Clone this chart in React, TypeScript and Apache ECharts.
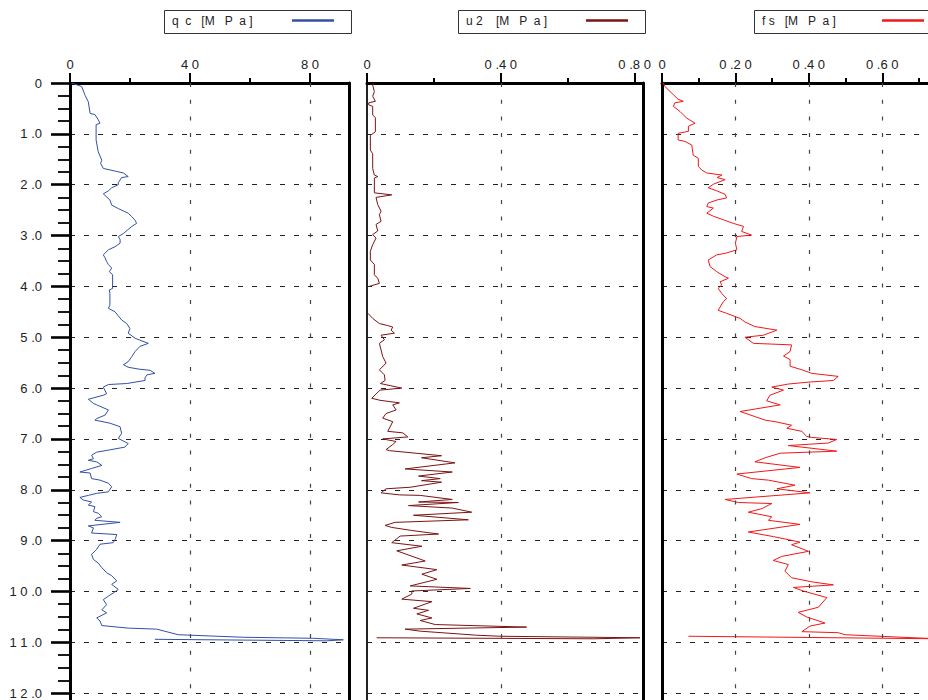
import React, { useEffect, useRef } from 'react';
import * as echarts from 'echarts';

// ---- data: [depth (m), value (MPa)] ----
const qcProfile: number[][] = [
  [0.00, 0.6], [0.07, 3.9], [0.24, 5.0], [0.37, 6.1], [0.60, 6.7], [0.62, 8.3], [0.72, 9.4], [0.79, 10.0], [0.82, 8.7],
  [1.12, 8.7], [1.35, 9.4], [1.52, 10.6], [1.58, 10.2], [1.68, 11.1], [1.74, 15.6], [1.77, 17.8], [1.84, 19.4], [1.86, 17.2],
  [1.96, 16.1], [2.00, 16.1], [2.06, 13.9], [2.12, 12.8], [2.18, 11.1], [2.30, 13.3], [2.40, 13.9], [2.47, 16.1], [2.56, 19.4],
  [2.63, 20.6], [2.70, 21.7], [2.76, 22.2], [2.82, 20.6], [2.96, 17.8], [3.02, 16.1], [3.08, 16.7], [3.15, 16.7], [3.22, 15.0],
  [3.28, 12.8], [3.38, 11.1], [3.44, 11.7], [3.51, 12.2], [3.57, 12.8], [3.64, 13.9], [3.71, 13.1], [3.77, 14.2], [4.04, 14.2],
  [4.07, 13.1], [4.14, 13.3], [4.37, 13.3], [4.43, 12.8], [4.50, 15.0], [4.60, 16.4], [4.66, 17.2], [4.73, 18.9], [4.83, 20.0],
  [4.92, 19.4], [5.02, 21.7], [5.12, 26.1], [5.18, 23.3], [5.28, 21.7], [5.38, 20.6], [5.48, 19.4], [5.54, 17.8], [5.59, 19.4],
  [5.63, 23.3], [5.65, 26.7], [5.71, 28.3], [5.74, 25.6], [5.80, 25.0], [5.85, 25.0], [5.91, 18.9], [5.93, 12.8], [5.98, 11.1],
  [6.11, 12.2], [6.14, 11.1], [6.22, 6.1], [6.30, 7.8], [6.33, 8.9], [6.43, 12.8], [6.53, 11.7], [6.60, 8.9], [6.63, 8.3],
  [6.69, 13.3], [6.76, 16.7], [6.89, 17.2], [6.99, 16.1], [7.09, 19.4], [7.16, 18.3], [7.22, 12.8], [7.26, 8.9], [7.32, 7.2],
  [7.39, 7.8], [7.42, 6.1], [7.45, 8.9], [7.52, 10.6], [7.58, 7.2], [7.65, 3.3], [7.67, 6.7], [7.78, 7.2], [7.81, 10.0],
  [7.87, 12.8], [7.94, 13.9], [8.04, 12.8], [8.07, 8.9], [8.11, 6.1], [8.15, 3.3], [8.20, 4.4], [8.24, 7.2], [8.30, 6.1],
  [8.33, 8.3], [8.43, 7.8], [8.46, 9.4], [8.53, 10.6], [8.56, 8.9], [8.60, 8.3], [8.64, 16.7], [8.71, 6.1], [8.75, 7.8],
  [8.85, 7.2], [8.88, 15.6], [8.98, 15.0], [9.04, 14.4], [9.07, 10.0], [9.17, 8.9], [9.27, 7.2], [9.37, 7.8], [9.44, 9.4],
  [9.53, 10.6], [9.63, 12.2], [9.69, 13.9], [9.79, 15.6], [9.86, 13.9], [9.96, 16.1], [10.03, 14.4], [10.09, 12.8],
  [10.16, 11.1], [10.26, 12.2], [10.36, 10.6], [10.42, 12.2], [10.52, 8.9], [10.58, 10.0], [10.67, 10.6], [10.72, 19.4],
  [10.74, 28.9], [10.85, 36.1], [10.90, 57.8], [10.92, 81.1], [10.95, 91.1], [10.97, 85.6], [10.94, 28.3],
];

// null marks a gap in the record
const u2Profile: (number[] | null)[] = [
  [0.00, 0.019], [0.04, 0.017], [0.17, 0.022], [0.26, 0.017], [0.36, 0.025], [0.39, 0.005], [0.43, 0.005], [0.46, 0.017],
  [0.63, 0.017], [0.68, 0.025], [0.96, 0.025], [1.03, 0.010], [1.32, 0.010], [1.39, 0.017], [1.68, 0.017], [1.81, 0.022],
  [1.84, 0.032], [1.87, 0.022], [2.16, 0.022], [2.20, 0.074], [2.25, 0.027], [2.39, 0.032], [2.52, 0.042], [2.59, 0.037],
  [2.72, 0.042], [2.78, 0.027], [2.91, 0.032], [2.98, 0.017], [3.05, 0.027], [3.18, 0.017], [3.31, 0.010], [3.48, 0.010],
  [3.57, 0.022], [3.77, 0.022], [3.84, 0.032], [3.94, 0.037], [4.00, 0.007],
  null,
  [4.53, 0.003], [4.63, 0.017], [4.73, 0.037], [4.77, 0.062], [4.80, 0.077], [4.86, 0.072], [4.92, 0.082], [4.96, 0.042],
  [5.05, 0.052], [5.12, 0.037], [5.25, 0.042], [5.38, 0.047], [5.51, 0.057], [5.64, 0.037], [5.74, 0.052], [5.85, 0.054],
  [5.91, 0.040], [6.00, 0.104], [6.04, 0.039], [6.20, 0.014], [6.24, 0.039], [6.29, 0.097], [6.33, 0.077], [6.43, 0.087],
  [6.50, 0.057], [6.59, 0.047], [6.66, 0.077], [6.85, 0.062], [6.88, 0.107], [6.96, 0.122], [7.00, 0.047], [7.05, 0.087],
  [7.11, 0.077], [7.21, 0.057], [7.23, 0.067], [7.33, 0.223], [7.37, 0.163], [7.47, 0.263], [7.59, 0.114], [7.65, 0.255],
  [7.73, 0.154], [7.78, 0.219], [7.82, 0.163], [7.85, 0.223], [7.95, 0.129], [7.98, 0.057], [8.06, 0.042], [8.10, 0.097],
  [8.11, 0.159], [8.19, 0.255], [8.24, 0.154], [8.25, 0.273], [8.31, 0.124], [8.36, 0.255], [8.44, 0.313], [8.50, 0.139],
  [8.59, 0.303], [8.64, 0.084], [8.70, 0.054], [8.74, 0.074], [8.80, 0.134], [8.87, 0.214], [8.91, 0.099], [9.04, 0.074],
  [9.11, 0.164], [9.20, 0.089], [9.40, 0.174], [9.48, 0.104], [9.57, 0.209], [9.66, 0.164], [9.76, 0.209], [9.89, 0.129],
  [9.94, 0.309], [9.99, 0.134], [10.05, 0.134], [10.15, 0.104], [10.20, 0.194], [10.33, 0.139], [10.37, 0.184],
  [10.44, 0.149], [10.52, 0.194], [10.57, 0.159], [10.65, 0.204], [10.70, 0.477], [10.74, 0.114], [10.78, 0.159],
  [10.86, 0.328], [10.88, 0.398], [10.91, 0.816], [10.93, 0.677], [10.91, 0.029],
];

const fsProfile: number[][] = [
  [0.00, 0.003], [0.07, 0.008], [0.23, 0.031], [0.32, 0.044], [0.36, 0.058], [0.39, 0.035], [0.46, 0.031], [0.56, 0.049],
  [0.69, 0.067], [0.75, 0.081], [0.79, 0.090], [0.85, 0.072], [0.95, 0.072], [0.99, 0.044], [1.12, 0.044], [1.15, 0.063],
  [1.22, 0.081], [1.42, 0.085], [1.48, 0.099], [1.64, 0.099], [1.71, 0.108], [1.77, 0.122], [1.81, 0.163], [1.86, 0.150],
  [1.90, 0.172], [1.99, 0.140], [2.06, 0.126], [2.12, 0.149], [2.19, 0.172], [2.26, 0.176], [2.30, 0.150], [2.36, 0.126],
  [2.43, 0.122], [2.46, 0.140], [2.56, 0.122], [2.62, 0.140], [2.69, 0.167], [2.76, 0.194], [2.82, 0.222], [2.92, 0.217],
  [2.99, 0.244], [3.02, 0.204], [3.15, 0.200], [3.28, 0.204], [3.35, 0.172], [3.38, 0.149], [3.48, 0.126], [3.61, 0.131],
  [3.71, 0.149], [3.81, 0.172], [3.84, 0.181], [3.91, 0.158], [3.97, 0.163], [4.04, 0.153], [4.14, 0.163], [4.24, 0.176],
  [4.30, 0.167], [4.47, 0.153], [4.53, 0.176], [4.63, 0.213], [4.70, 0.226], [4.79, 0.253], [4.86, 0.313], [4.96, 0.276],
  [5.00, 0.226], [5.12, 0.249], [5.15, 0.353], [5.28, 0.349], [5.37, 0.331], [5.44, 0.349], [5.57, 0.349], [5.64, 0.381],
  [5.71, 0.408], [5.77, 0.480], [5.85, 0.467], [5.88, 0.403], [5.92, 0.344], [5.98, 0.299], [6.04, 0.331], [6.14, 0.294],
  [6.25, 0.285], [6.33, 0.322], [6.46, 0.213], [6.56, 0.253], [6.63, 0.281], [6.66, 0.308], [6.73, 0.353], [6.79, 0.340],
  [6.85, 0.381], [6.95, 0.394], [6.97, 0.408], [7.01, 0.476], [7.08, 0.453], [7.13, 0.344], [7.24, 0.476], [7.28, 0.322],
  [7.37, 0.281], [7.45, 0.253], [7.56, 0.376], [7.69, 0.204], [7.78, 0.244], [7.81, 0.290], [7.91, 0.362], [7.98, 0.313],
  [8.06, 0.403], [8.19, 0.172], [8.25, 0.208], [8.27, 0.299], [8.37, 0.272], [8.44, 0.235], [8.53, 0.299], [8.60, 0.290],
  [8.68, 0.376], [8.83, 0.235], [8.92, 0.303], [8.98, 0.344], [9.03, 0.376], [9.08, 0.353], [9.21, 0.399], [9.31, 0.326],
  [9.39, 0.303], [9.47, 0.344], [9.60, 0.335], [9.73, 0.353], [9.81, 0.408], [9.87, 0.467], [9.92, 0.358], [9.99, 0.385],
  [10.12, 0.449], [10.31, 0.426], [10.41, 0.371], [10.50, 0.394], [10.62, 0.444], [10.68, 0.403], [10.79, 0.381],
  [10.81, 0.480], [10.85, 0.499], [10.93, 0.750], [10.88, 0.072],
];

// ---- axis ticks / labels ----
const qcMinorTicks = [0, 20, 40, 60, 80];
const qcMajorTicks = [0, 40, 80];
const qcGridX = [40, 80];
const u2MinorTicks = [0, 0.2, 0.4, 0.6, 0.8];
const u2MajorTicks = [0, 0.4, 0.8];
const u2GridX = [0.4];
const fsMinorTicks = [0, 0.1, 0.2, 0.3, 0.4, 0.5, 0.6, 0.7];
const fsMajorTicks = [0, 0.2, 0.4, 0.6];
const fsGridX = [0.2, 0.4, 0.6];
const legendLabels = ['q  c   [M   P  a ]', 'u 2    [M   P  a ]', 'f s   [M   P  a ]'];

const FONT = '"Liberation Sans", Arial, sans-serif';

const spaced = (s: string) =>
  s.split('').map((c, i) => (i === 0 || s[i - 1] === '.' ? c : ' ' + c)).join('');
const fmt = (v: number, dec: number) => (Math.abs(v) < 1e-9 ? '0' : spaced(v.toFixed(dec)));

export default function App() {
  const ref = useRef<HTMLDivElement>(null);

  useEffect(() => {
    if (!ref.current) return;
    const chart = echarts.init(ref.current, undefined, { renderer: 'svg' });

    const TOP = 83;
    const DEPTH_MAX = 13;
    const PX_PER_M = 50.85;

    const panels = [
      { left: 70, width: 279, max: 93, interval: 20, major: 40, minors: qcMinorTicks, majors: qcMajorTicks, gridX: qcGridX, dec: 0, data: qcProfile, color: '#3450A8', leftW: 3, yLabels: true, legendX: 164 },
      { left: 367, width: 276, max: 0.825, interval: 0.2, major: 0.4, minors: u2MinorTicks, majors: u2MajorTicks, gridX: u2GridX, dec: 2, data: u2Profile, color: '#7B1414', leftW: 2, yLabels: false, legendX: 458 },
      { left: 662, width: 279, max: 0.76, interval: 0.1, major: 0.2, minors: fsMinorTicks, majors: fsMajorTicks, gridX: fsGridX, dec: 2, data: fsProfile, color: '#F01818', leftW: 3, yLabels: false, legendX: 754 },
    ];

    const grid = panels.map((p) => ({
      left: p.left, top: TOP, width: p.width, height: DEPTH_MAX * PX_PER_M,
      outerBoundsMode: 'none', containLabel: false,
    }));

    const xAxis: any[] = [];
    const yAxis: any[] = [];
    const series: any[] = [];
    const graphic: any[] = [];

    panels.forEach((p, i) => {
      xAxis.push({
        type: 'value', gridIndex: i, position: 'top', min: 0, max: p.max, interval: p.interval,
        axisLine: { show: true, onZero: false, lineStyle: { color: '#000', width: 3 } },
        axisTick: { show: true, length: 5, customValues: p.minors, lineStyle: { color: '#000', width: 2 } },
        axisLabel: { show: false },
        splitLine: { show: false },
      });
      xAxis.push({
        type: 'value', gridIndex: i, position: 'top', min: 0, max: p.max, interval: p.major,
        axisLine: { show: false, onZero: false },
        axisTick: { show: true, length: 10, customValues: p.majors, lineStyle: { color: '#000', width: 2 } },
        axisLabel: {
          show: true, customValues: p.majors, margin: 12, fontSize: 13, color: '#222', fontFamily: FONT,
          formatter: (v: number) => fmt(v, p.dec),
        },
        splitLine: { show: false },
      });
      yAxis.push({
        type: 'value', gridIndex: i, position: 'left', inverse: true, min: 0, max: DEPTH_MAX, interval: 1,
        axisLine: { show: true, onZero: false, lineStyle: { color: i === 1 ? '#222' : '#000', width: p.leftW } },
        axisTick: { show: p.yLabels, length: 19, lineStyle: { color: '#000', width: 2.6 } },
        minorTick: { show: p.yLabels, splitNumber: 4, length: 12, lineStyle: { color: '#000', width: 1.8 } },
        axisLabel: {
          show: p.yLabels, margin: 28, fontSize: 13, color: '#222', fontFamily: FONT,
          formatter: (v: number) => fmt(v, 1),
        },
        splitLine: { show: true, lineStyle: { color: '#222', width: 1, type: [5, 9] } },
      });
      yAxis.push({
        type: 'value', gridIndex: i, position: 'right', inverse: true, min: 0, max: DEPTH_MAX, interval: 1,
        axisLine: { show: true, onZero: false, lineStyle: { color: '#000', width: 3 } },
        axisTick: { show: false }, axisLabel: { show: false }, splitLine: { show: false },
      });

      series.push({
        type: 'line', name: legendLabels[i], xAxisIndex: 2 * i, yAxisIndex: 2 * i,
        symbol: 'none', showSymbol: false, connectNulls: false,
        lineStyle: { color: p.color, width: 1 },
        data: p.data.map((d: any) => (d ? [d[1], d[0]] : ['-', '-'])),
        markLine: {
          silent: true, symbol: ['none', 'none'], label: { show: false },
          lineStyle: { color: '#444', width: 1.2, type: [4, 12.7] },
          emphasis: { disabled: true },
          data: p.gridX.map((v) => ({ xAxis: v })),
        },
        z: 3,
      });

      const bx = p.legendX;
      graphic.push(
        { type: 'rect', shape: { x: bx + 0.5, y: 10.5, width: 187, height: 23 }, style: { fill: '#fff', stroke: '#333', lineWidth: 1 } },
        { type: 'text', x: bx + 8, y: 21, style: { text: legendLabels[i], fontSize: 12, fill: '#222', fontFamily: FONT, verticalAlign: 'middle' } },
        { type: 'line', shape: { x1: bx + 128, y1: 20.5, x2: bx + 170, y2: 20.5 }, style: { stroke: p.color, lineWidth: 2.5 } },
      );
    });

    chart.setOption({
      animation: false,
      backgroundColor: '#fff',
      grid, xAxis, yAxis, series, graphic,
    });

    return () => chart.dispose();
  }, []);

  return (
    <div
      ref={ref}
      style={{ position: 'fixed', left: 0, top: 0, width: 928, height: 700, background: '#fff' }}
    />
  );
}
